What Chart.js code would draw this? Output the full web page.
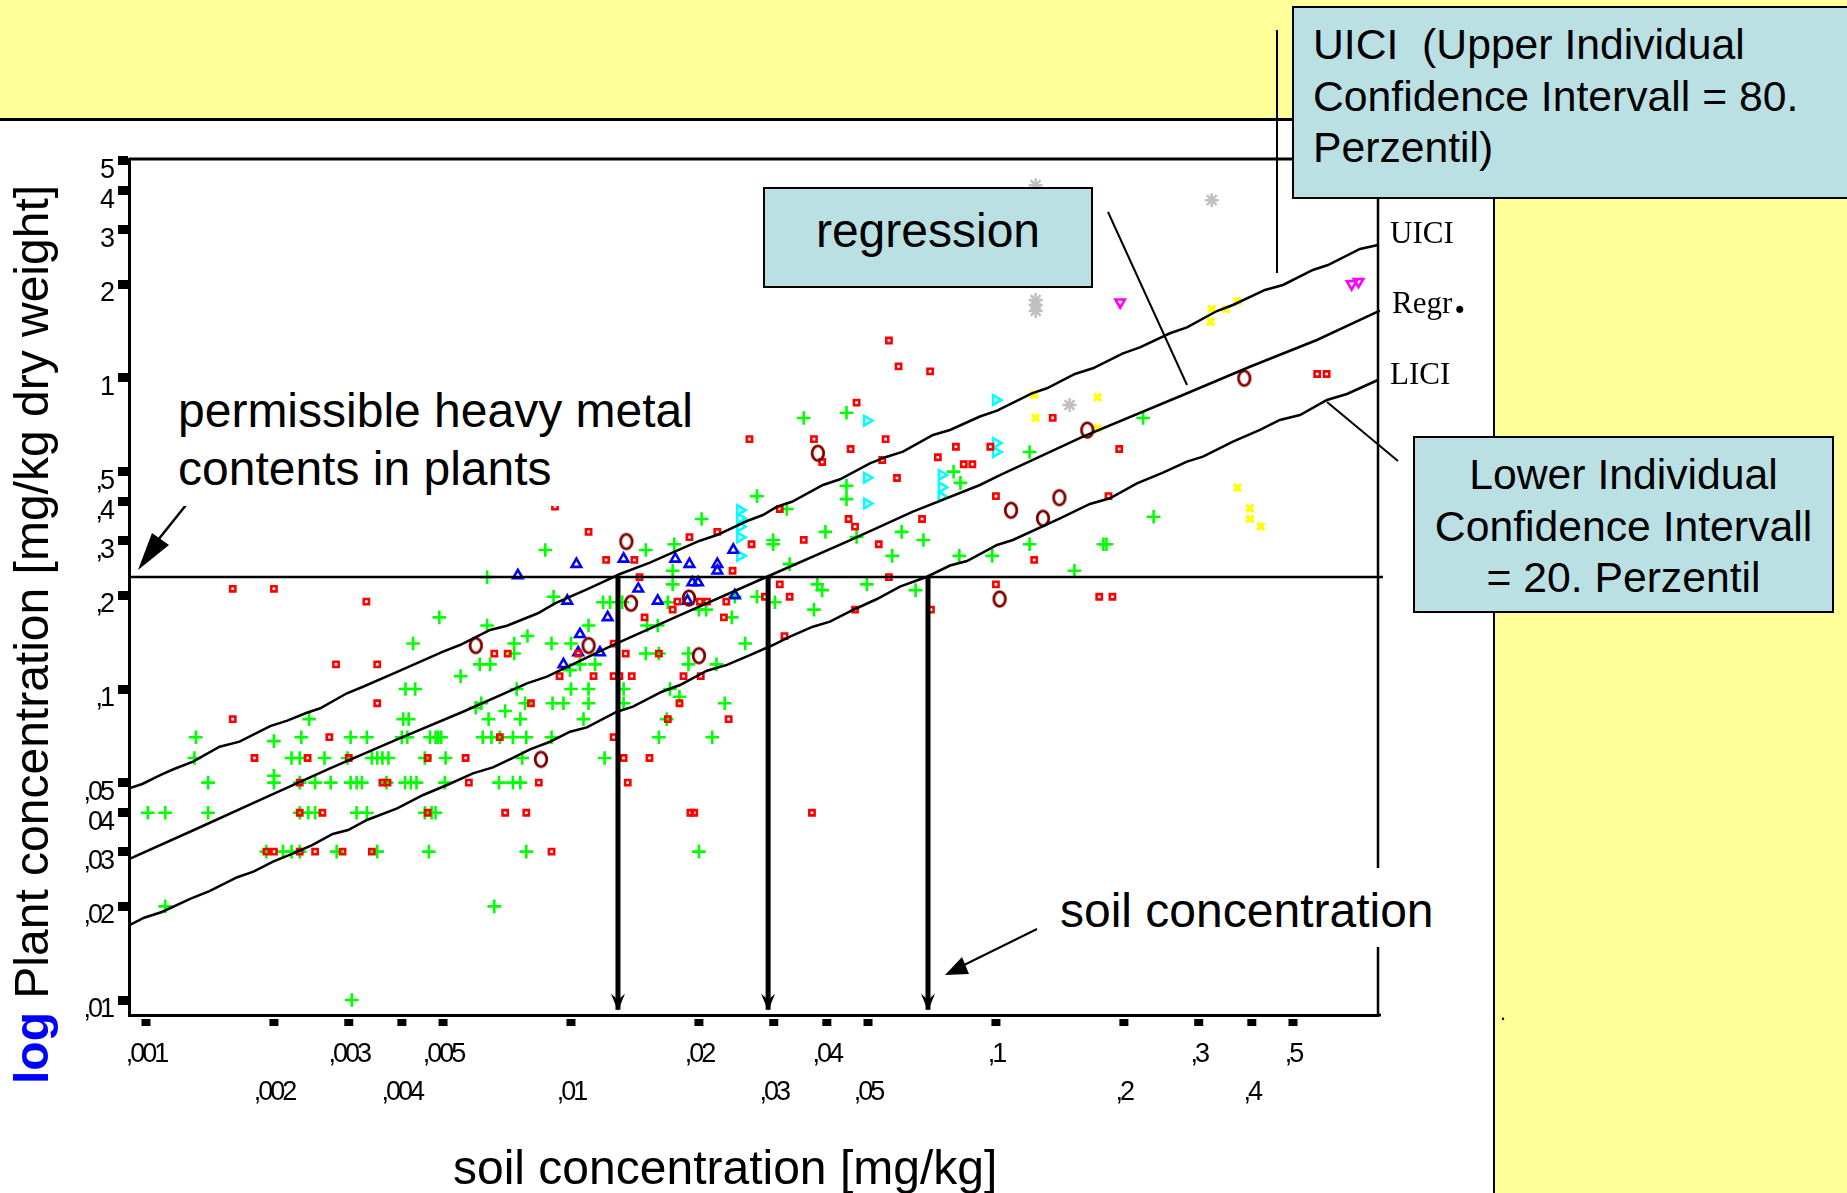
<!DOCTYPE html>
<html>
<head>
<meta charset="utf-8">
<title>Plant concentration vs soil concentration</title>
<script src="https://cdn.jsdelivr.net/npm/chart.js@4/dist/chart.umd.min.js"></script>
<style>
    html, body { margin: 0; padding: 0; background: #FFFF99; overflow: hidden; }
    body { position: relative; width: 1847px; height: 1193px; font-family: "Liberation Sans", Arial, sans-serif; color: #000; }
    #panel { position: absolute; left: 0; top: 118px; width: 1493px; height: 1075px; background: #fff; border-top: 3px solid #000; border-right: 2px solid #000; box-sizing: content-box; }
    #riskCanvas { position: absolute; left: 0; top: 0; z-index: 1; }
    .box { position: absolute; z-index: 2; background: #BBE0E3; border: 2px solid #000; box-sizing: border-box; }
    .note { position: absolute; z-index: 2; font-size: 48px; line-height: 58px; white-space: nowrap; }
    .curveName { position: absolute; z-index: 2; font-family: "Liberation Serif", serif; font-size: 31px; line-height: 31px; white-space: nowrap; }
</style>
</head>
<body>
<div id="panel"></div>
<canvas id="riskCanvas" width="1847" height="1193"></canvas>

<div class="box" style="left:1292px;top:6px;width:570px;height:193px;font-size:42.7px;line-height:51.7px;padding:11px 0 0 19px;">UICI&nbsp; (Upper Individual<br>Confidence Intervall = 80.<br>Perzentil)</div>
<div class="box" style="left:763px;top:187px;width:330px;height:101px;font-size:48px;line-height:83px;text-align:center;">regression</div>
<div class="box" style="left:1413px;top:436px;width:421px;height:177px;font-size:42.7px;line-height:51.7px;padding-top:11px;text-align:center;">Lower Individual<br>Confidence Intervall<br>= 20. Perzentil</div>

<div class="note" style="left:178px;top:382px;padding-bottom:8px;background:#fff;">permissible heavy metal<br>contents in plants</div>
<div class="note" style="left:1060px;top:868px;height:65px;padding-top:14px;background:#fff;">soil concentration</div>
<div class="note" style="left:453px;top:1139px;">soil concentration [mg/kg]</div>
<div class="note" style="left:8px;top:1084px;line-height:48px;transform-origin:0 0;transform:rotate(-90deg);"><b style="color:#0000FF">log</b> Plant concentration [mg/kg dry weight]</div>

<div class="curveName" style="left:1390px;top:217px;">UICI</div>
<div class="curveName" style="left:1392px;top:287px;">Regr<b style="font-size:44px;line-height:20px;margin-left:2px;">.</b></div>
<div class="curveName" style="left:1390px;top:358px;">LICI</div>
<div style="position:absolute;left:1500px;top:1000px;font-size:22px;z-index:2;">.</div>

<script>
// Axis ticks
const soilTicks = [0.001, 0.002, 0.003, 0.004, 0.005, 0.01, 0.02, 0.03, 0.04, 0.05, 0.1, 0.2, 0.3, 0.4, 0.5];
const soilTickLabels = [[",001", ""], ["", ",002"], [",003", ""], ["", ",004"], [",005", ""], ["", ",01"], [",02", ""], ["", ",03"], [",04", ""], ["", ",05"], [",1", ""], ["", ",2"], [",3", ""], ["", ",4"], [",5", ""]];
const plantTicks = [0.01, 0.02, 0.03, 0.04, 0.05, 0.1, 0.2, 0.3, 0.4, 0.5, 1, 2, 3, 4, 5];
const plantTickLabels = [",01", ",02", ",03", "04", ",05", ",1", ",2", ",3", ",4", ",5", "1", "2", "3", "4", "5"];

// Fitted curves, [soil, plant]
const uiciCurve = [[0.000912, 0.0479], [0.00098, 0.0495], [0.00108, 0.0529], [0.00116, 0.0552], [0.00129, 0.0584], [0.00149, 0.0652], [0.00166, 0.0677], [0.00196, 0.076], [0.00215, 0.0791], [0.00239, 0.0839], [0.00257, 0.0867], [0.00297, 0.0969], [0.00324, 0.1017], [0.0039, 0.1136], [0.00425, 0.1195], [0.005, 0.1318], [0.00548, 0.1385], [0.00645, 0.1548], [0.00707, 0.1598], [0.00836, 0.1752], [0.00917, 0.1886], [0.0109, 0.2092], [0.0117, 0.2187], [0.01304, 0.2343], [0.01534, 0.2548], [0.01776, 0.2784], [0.0201, 0.2998], [0.02206, 0.3127], [0.02595, 0.3469], [0.0283, 0.3626], [0.03053, 0.3857], [0.0331, 0.4001], [0.03917, 0.4529], [0.04296, 0.4724], [0.05052, 0.5318], [0.05539, 0.5584], [0.06043, 0.5794], [0.0711, 0.6557], [0.07796, 0.6805], [0.0917, 0.7519], [0.1006, 0.785], [0.1215, 0.893], [0.1318, 0.9266], [0.1534, 1.03], [0.1691, 1.0745], [0.199, 1.2007], [0.2182, 1.255], [0.2567, 1.3925], [0.2815, 1.455], [0.3311, 1.642], [0.3611, 1.717], [0.4296, 1.919], [0.4736, 1.991], [0.5569, 2.225], [0.6043, 2.308], [0.7186, 2.6], [0.7924, 2.678]];
const regrCurve = [[0.000912, 0.0284], [0.00132, 0.0356], [0.00189, 0.0445], [0.00271, 0.0556], [0.0039, 0.0689], [0.00557, 0.0845], [0.00788, 0.1043], [0.00878, 0.1096], [0.01255, 0.1385], [0.01805, 0.1729], [0.02892, 0.2296], [0.04461, 0.2976], [0.06378, 0.3716], [0.0917, 0.4529], [0.1022, 0.4876], [0.1602, 0.6475], [0.2754, 0.8817], [0.3959, 1.087], [0.5691, 1.325], [0.8006, 1.646]];
const liciCurve = [[0.000912, 0.01739], [0.00099, 0.01839], [0.00109, 0.01919], [0.00127, 0.02115], [0.00141, 0.02238], [0.00164, 0.02482], [0.00179, 0.02587], [0.00199, 0.02785], [0.00222, 0.02963], [0.00246, 0.0315], [0.00275, 0.03418], [0.00299, 0.03521], [0.00331, 0.03792], [0.0039, 0.04134], [0.00449, 0.04563], [0.00511, 0.04913], [0.00588, 0.05357], [0.00655, 0.056], [0.00726, 0.05987], [0.00801, 0.06398], [0.00893, 0.06768], [0.00995, 0.07289], [0.0109, 0.07527], [0.01283, 0.08453], [0.01399, 0.08773], [0.01637, 0.09802], [0.01805, 0.103], [0.02089, 0.1145], [0.02329, 0.1195], [0.02637, 0.1286], [0.02987, 0.1385], [0.03276, 0.1473], [0.03709, 0.1586], [0.04068, 0.1646], [0.04608, 0.1795], [0.05248, 0.1947], [0.05945, 0.2133], [0.06882, 0.2296], [0.07796, 0.2495], [0.08547, 0.258], [0.1006, 0.2904], [0.1096, 0.3014], [0.1415, 0.3539], [0.1664, 0.3935], [0.1854, 0.4104], [0.2147, 0.4586], [0.2472, 0.4961], [0.2815, 0.5382], [0.307, 0.5584], [0.3611, 0.624], [0.418, 0.6805], [0.4657, 0.7328], [0.5193, 0.7604], [0.601, 0.8497], [0.6697, 0.8884], [0.7924, 0.9853]];

// Permissible plant content and the soil concentrations it gives
const permissibleLine = [[0.000912, 0.229], [0.814, 0.229]];
const dropSoil = [0.0129, 0.0291, 0.0692];
const dropPlantEnd = 0.0093;

// Scatter, each row is [plant value, [soil values]]
const greenRows = [
    [0.01, [0.00305]],
    [0.02, [0.00111, 0.0066]],
    [0.03, [0.00192, 0.0021, 0.0022, 0.0023, 0.00281, 0.0035, 0.00463, 0.00785, 0.02]],
    [0.04, [0.00101, 0.00111, 0.0014, 0.0023, 0.00241, 0.0025, 0.00313, 0.00331, 0.00453, 0.0047, 0.0048]],
    [0.05, [0.0014, 0.002, 0.0023, 0.0025, 0.00272, 0.00303, 0.00313, 0.00322, 0.00368, 0.00407, 0.0042, 0.00433, 0.00505, 0.00677, 0.0073, 0.0076]],
    [0.0526, [0.002]],
    [0.06, [0.0013, 0.0022, 0.0023, 0.00263, 0.00298, 0.0034, 0.0035, 0.0036, 0.00372, 0.00453, 0.00507, 0.00768, 0.012]],
    [0.068, [0.002]],
    [0.07, [0.00131, 0.00232, 0.00303, 0.00331, 0.004, 0.00412, 0.00466, 0.0048, 0.00487, 0.00495, 0.0062, 0.0065, 0.0068, 0.0073, 0.00785, 0.009, 0.0161, 0.0215]],
    [0.08, [0.00242, 0.00403, 0.00415, 0.0064, 0.0076, 0.0107, 0.0168]],
    [0.085, [0.007]],
    [0.087, [0.00597]],
    [0.09, [0.00615, 0.0078, 0.00905, 0.0096, 0.011, 0.0133, 0.023]],
    [0.0944, [0.018]],
    [0.1, [0.00408, 0.0043, 0.00745, 0.01, 0.011, 0.0133, 0.0171]],
    [0.11, [0.0055]],
    [0.115, [0.00995]],
    [0.12, [0.0061, 0.00645, 0.0105, 0.0114, 0.0189, 0.022]],
    [0.13, [0.00735, 0.015, 0.0161, 0.0189]],
    [0.14, [0.00425, 0.00735, 0.009, 0.01, 0.0257]],
    [0.148, [0.0079]],
    [0.16, [0.00635, 0.011, 0.0151, 0.016]],
    [0.17, [0.0049, 0.0239]],
    [0.18, [0.02, 0.0208, 0.0373]],
    [0.19, [0.0119, 0.01235, 0.0132, 0.0169, 0.0302]],
    [0.198, [0.0091, 0.0243, 0.0274]],
    [0.208, [0.039, 0.0647]],
    [0.217, [0.01735, 0.038, 0.0497]],
    [0.229, [0.00635]],
    [0.24, [0.01735, 0.153]],
    [0.252, [0.0327]],
    [0.268, [0.057, 0.082, 0.098]],
    [0.28, [0.0087, 0.015]],
    [0.292, [0.0175, 0.0299, 0.12, 0.179, 0.182]],
    [0.3015, [0.0299, 0.0675]],
    [0.308, [0.047]],
    [0.32, [0.0397, 0.06]],
    [0.352, [0.0203]],
    [0.358, [0.235]],
    [0.379, [0.0322]],
    [0.408, [0.0445]],
    [0.417, [0.0274]],
    [0.45, [0.0445]],
    [0.46, [0.0825]],
    [0.5, [0.0795]],
    [0.578, [0.12]],
    [0.744, [0.0353, 0.222]],
    [0.773, [0.0445]]
];
const redRows = [
    [0.03, [0.00192, 0.002, 0.0023, 0.0025, 0.0029, 0.0034, 0.009]],
    [0.04, [0.0023, 0.0026, 0.0046, 0.007, 0.00785, 0.0191, 0.0195, 0.0369]],
    [0.05, [0.0023, 0.0036, 0.0037, 0.00575, 0.0084, 0.0136]],
    [0.06, [0.0018, 0.0024, 0.003, 0.0046, 0.00565, 0.0133, 0.0153]],
    [0.07, [0.0027, 0.0068, 0.0126]],
    [0.08, [0.0016, 0.0169, 0.0235]],
    [0.09, [0.0035, 0.00805, 0.018]],
    [0.11, [0.0094, 0.0113, 0.0126, 0.013, 0.0139, 0.0184, 0.0202]],
    [0.12, [0.0028, 0.0035]],
    [0.13, [0.0066, 0.0071, 0.0104, 0.01345, 0.0161]],
    [0.14, [0.0126]],
    [0.148, [0.0318]],
    [0.17, [0.0149, 0.0229]],
    [0.18, [0.01735, 0.0466, 0.0703]],
    [0.191, [0.0033, 0.0178, 0.0201, 0.0209, 0.0232]],
    [0.198, [0.0286, 0.0327, 0.175, 0.188]],
    [0.21, [0.0016, 0.002]],
    [0.217, [0.031, 0.1]],
    [0.229, [0.0145, 0.056]],
    [0.24, [0.024]],
    [0.26, [0.0121, 0.0141, 0.123]],
    [0.292, [0.0266, 0.053]],
    [0.3015, [0.0353]],
    [0.308, [0.019]],
    [0.32, [0.011, 0.0221]],
    [0.3326, [0.0466]],
    [0.352, [0.045, 0.067]],
    [0.379, [0.031]],
    [0.386, [0.00917]],
    [0.417, [0.1, 0.184]],
    [0.477, [0.0585]],
    [0.528, [0.084, 0.088]],
    [0.537, [0.039]],
    [0.545, [0.054]],
    [0.556, [0.073]],
    [0.591, [0.0455, 0.195]],
    [0.601, [0.0805, 0.097]],
    [0.636, [0.0263, 0.0373, 0.055]],
    [0.744, [0.136]],
    [0.833, [0.047]],
    [1.03, [0.57, 0.6]],
    [1.05, [0.07]],
    [1.09, [0.059]],
    [1.32, [0.056]]
];
const bluePoints = [[0.0075, 0.232], [0.0103, 0.252], [0.0098, 0.192], [0.0122, 0.17], [0.0133, 0.262], [0.0144, 0.21], [0.016, 0.192], [0.0176, 0.262], [0.019, 0.252], [0.0193, 0.22], [0.0199, 0.22], [0.0188, 0.192], [0.0221, 0.252], [0.0221, 0.24], [0.0241, 0.28], [0.0243, 0.2], [0.0105, 0.15], [0.0104, 0.131], [0.0117, 0.131], [0.0096, 0.12]];
const maroonPoints = [[0.00597, 0.138], [0.0135, 0.298], [0.01384, 0.1886], [0.01895, 0.196], [0.011, 0.138], [0.02, 0.128], [0.0085, 0.0594], [0.0381, 0.573], [0.102, 0.1947], [0.1085, 0.3755], [0.129, 0.354], [0.141, 0.4123], [0.164, 0.68], [0.384, 0.998]];
const cyanPoints = [[0.1, 0.85], [0.1, 0.618], [0.1, 0.578], [0.0497, 0.729], [0.0497, 0.478], [0.0497, 0.395], [0.0745, 0.488], [0.0745, 0.445], [0.0745, 0.415], [0.025, 0.376], [0.025, 0.354], [0.025, 0.333], [0.025, 0.3075], [0.025, 0.268]];
const yellowPoints = [[0.322, 1.667], [0.32, 1.517], [0.348, 1.667], [0.37, 1.769], [0.123, 0.882], [0.124, 0.745], [0.1735, 0.867], [0.1735, 0.689], [0.37, 0.444], [0.396, 0.381], [0.396, 0.352], [0.42, 0.333]];
const grayPoints = [[0.322, 3.73], [0.149, 0.819], [0.124, 4.17], [0.124, 1.78], [0.124, 1.717], [0.124, 1.642]];
const magentaPoints = [[0.196, 1.752], [0.687, 2.005], [0.713, 2.04]];

function rowsToPoints(rows) {
    const points = [];
    rows.forEach(row => row[1].forEach(soil => points.push({ x: soil, y: row[0] })));
    return points;
}
function pairsToPoints(pairs) {
    return pairs.map(p => ({ x: p[0], y: p[1] }));
}

// Chart.js has no ellipse marker, the maroon ones are tall rings
function makeRing() {
    const c = document.createElement("canvas");
    c.width = 18;
    c.height = 20;
    const g = c.getContext("2d");
    g.strokeStyle = "#800000";
    g.lineWidth = 2.8;
    g.beginPath();
    g.ellipse(9, 10, 5.8, 7.4, 0, 0, Math.PI * 2);
    g.stroke();
    return c;
}

function curveSet(pairs, width) {
    return { type: "line", data: pairsToPoints(pairs), borderColor: "#000", borderWidth: width, pointRadius: 0, tension: 0, clip: false, fill: false };
}
function markSet(points, style, radius, color, lineWidth, rotation) {
    return { type: "scatter", data: points, pointStyle: style, pointRadius: radius, pointBorderColor: color, pointBackgroundColor: "rgba(0,0,0,0)", pointBorderWidth: lineWidth, pointRotation: rotation || 0, clip: false };
}

// Datasets are painted last to first
const datasets = [
    curveSet(uiciCurve, 2.5),
    curveSet(regrCurve, 2.5),
    curveSet(liciCurve, 2.5),
    curveSet(permissibleLine, 2.5)
];
dropSoil.forEach(soil => datasets.push(curveSet([[soil, 0.229], [soil, dropPlantEnd]], 5)));
datasets.push(markSet(pairsToPoints(maroonPoints), makeRing(), 9, "#800000", 1));
datasets.push(markSet(rowsToPoints(redRows), "rect", 3.7, "#FF0000", 2.6));
datasets.push(markSet(pairsToPoints(bluePoints), "triangle", 5.5, "#0000FF", 2.6));
datasets.push(markSet(pairsToPoints(cyanPoints), "triangle", 5.5, "#00FFFF", 2.6, 90));
datasets.push(markSet(pairsToPoints(magentaPoints), "triangle", 5.5, "#FF00FF", 2.6, 180));
datasets.push(markSet(pairsToPoints(yellowPoints), "crossRot", 5, "#FFFF00", 3.5));
datasets.push(markSet(pairsToPoints(grayPoints), "star", 7, "#C0C0C0", 2.5));
datasets.push(markSet(rowsToPoints(greenRows), "cross", 6.8, "#00FF00", 2.6));

function filledShape(ctx, pts) {
    ctx.beginPath();
    pts.forEach((p, i) => i ? ctx.lineTo(p[0], p[1]) : ctx.moveTo(p[0], p[1]));
    ctx.closePath();
    ctx.fill();
}
function plainLine(ctx, x1, y1, x2, y2, width) {
    ctx.lineWidth = width;
    ctx.beginPath();
    ctx.moveTo(x1, y1);
    ctx.lineTo(x2, y2);
    ctx.stroke();
}

const framePlugin = {
    id: "frame",
    beforeDraw(chart) {
        // the tick labels in the original are squeezed together
        chart.ctx.letterSpacing = "-3px";
    },
    afterDraw(chart) {
        const ctx = chart.ctx;
        const area = chart.chartArea;
        const xs = chart.scales.x;
        const ys = chart.scales.y;
        ctx.save();
        ctx.letterSpacing = "0px";
        ctx.strokeStyle = "#000";
        ctx.fillStyle = "#000";

        // top and right frame
        plainLine(ctx, area.left, area.top, 1300, area.top, 3);
        plainLine(ctx, area.right, area.top, area.right, area.bottom, 2.5);
        plainLine(ctx, area.right, area.bottom, area.right + 3, area.bottom, 3);

        // square tick marks below the x axis
        soilTicks.forEach(v => ctx.fillRect(xs.getPixelForValue(v) - 4.5, area.bottom + 4, 9, 7));

        // arrow heads on the soil concentration drops
        dropSoil.forEach(v => {
            const x = xs.getPixelForValue(v);
            const tip = ys.getPixelForValue(dropPlantEnd) + 1;
            filledShape(ctx, [[x, tip], [x - 7, tip - 17], [x, tip - 11], [x + 7, tip - 17]]);
        });

        // callout lines
        plainLine(ctx, 1277, 30, 1277, 273, 2);
        plainLine(ctx, 1108, 212, 1187, 385, 2);
        plainLine(ctx, 1327, 402, 1398, 461, 2);

        // "permissible" arrow
        plainLine(ctx, 186, 505, 158, 540, 2.5);
        filledShape(ctx, [[138, 570], [152, 533], [169, 545]]);

        // "soil concentration" arrow
        plainLine(ctx, 1037, 929, 958, 968, 2);
        filledShape(ctx, [[945, 975], [962, 957], [969, 974]]);
        ctx.restore();
    }
};

const labelFont = { family: "'Liberation Sans', Arial, sans-serif", size: 27, lineHeight: 1.39 };

new Chart(document.getElementById("riskCanvas").getContext("2d"), {
    data: { datasets: datasets },
    plugins: [framePlugin],
    options: {
        responsive: false,
        animation: false,
        events: [],
        layout: { padding: { top: 159, right: 469, bottom: 0, left: 0 } },
        plugins: { legend: { display: false }, tooltip: { enabled: false } },
        scales: {
            x: {
                type: "logarithmic",
                position: "bottom",
                min: 0.000912,
                max: 0.7925,
                afterFit(scale) { scale.height = 178; },
                afterBuildTicks(scale) { scale.ticks = soilTicks.map(v => ({ value: v })); },
                grid: { display: true, drawOnChartArea: false, drawTicks: false },
                border: { display: true, color: "#000", width: 3 },
                ticks: {
                    autoSkip: false,
                    maxRotation: 0,
                    color: "#000",
                    font: labelFont,
                    padding: 21,
                    callback(value, index) { return soilTickLabels[index]; }
                }
            },
            y: {
                type: "logarithmic",
                position: "left",
                min: 0.00895,
                max: 5.06,
                afterFit(scale) { scale.width = 129; },
                afterBuildTicks(scale) { scale.ticks = plantTicks.map(v => ({ value: v })); },
                grid: { display: true, drawOnChartArea: false, drawTicks: true, tickLength: 11, tickWidth: 9, tickColor: "#000" },
                border: { display: true, color: "#000", width: 3 },
                ticks: {
                    autoSkip: false,
                    color: "#000",
                    font: labelFont,
                    padding: 6,
                    labelOffset: 9.5,
                    callback(value, index) { return plantTickLabels[index]; }
                }
            }
        }
    }
});
</script>
</body>
</html>
